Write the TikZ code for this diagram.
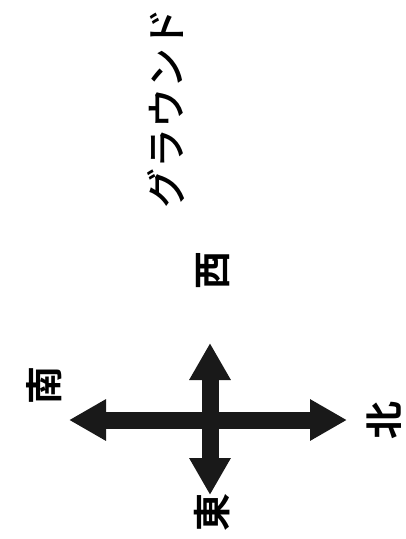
\documentclass[tikz,border=0pt]{standalone}
\usepackage{fontspec}
\newfontfamily\cjk{Noto Sans CJK JP Medium}
\newfontfamily\cjkb{Noto Sans CJK JP Bold}
\usetikzlibrary{arrows.meta}
\tikzset{
  dirlabel/.style={font=\cjkb\fontsize{38}{38}\selectfont, rotate=90, inner sep=0pt},
  titlelabel/.style={font=\cjk\fontsize{40}{40}\selectfont, rotate=90, inner sep=0pt},
  bigarrow/.style={line width=17pt, {Triangle[length=37pt,width=39pt]}-{Triangle[length=37pt,width=39pt]}, color=black!90}
}
\begin{document}
\begin{tikzpicture}[x=1pt,y=-1pt]
\useasboundingbox[fill=white] (0,0) rectangle (406,539);
\node[titlelabel] (title) at (166,108) {グラウンド};
\node[dirlabel] (west) at (213,270) {西};
\node[dirlabel] (south) at (44,385) {南};
\node[dirlabel] (north) at (384,420) {北};
\node[dirlabel] (east) at (212,512) {東};
\coordinate (l) at (69,420);
\coordinate (r) at (347,420);
\coordinate (t) at (210,343);
\coordinate (b) at (210,495);
\draw[bigarrow] (l) -- (r);
\draw[bigarrow] (t) -- (b);
\end{tikzpicture}
\end{document}
